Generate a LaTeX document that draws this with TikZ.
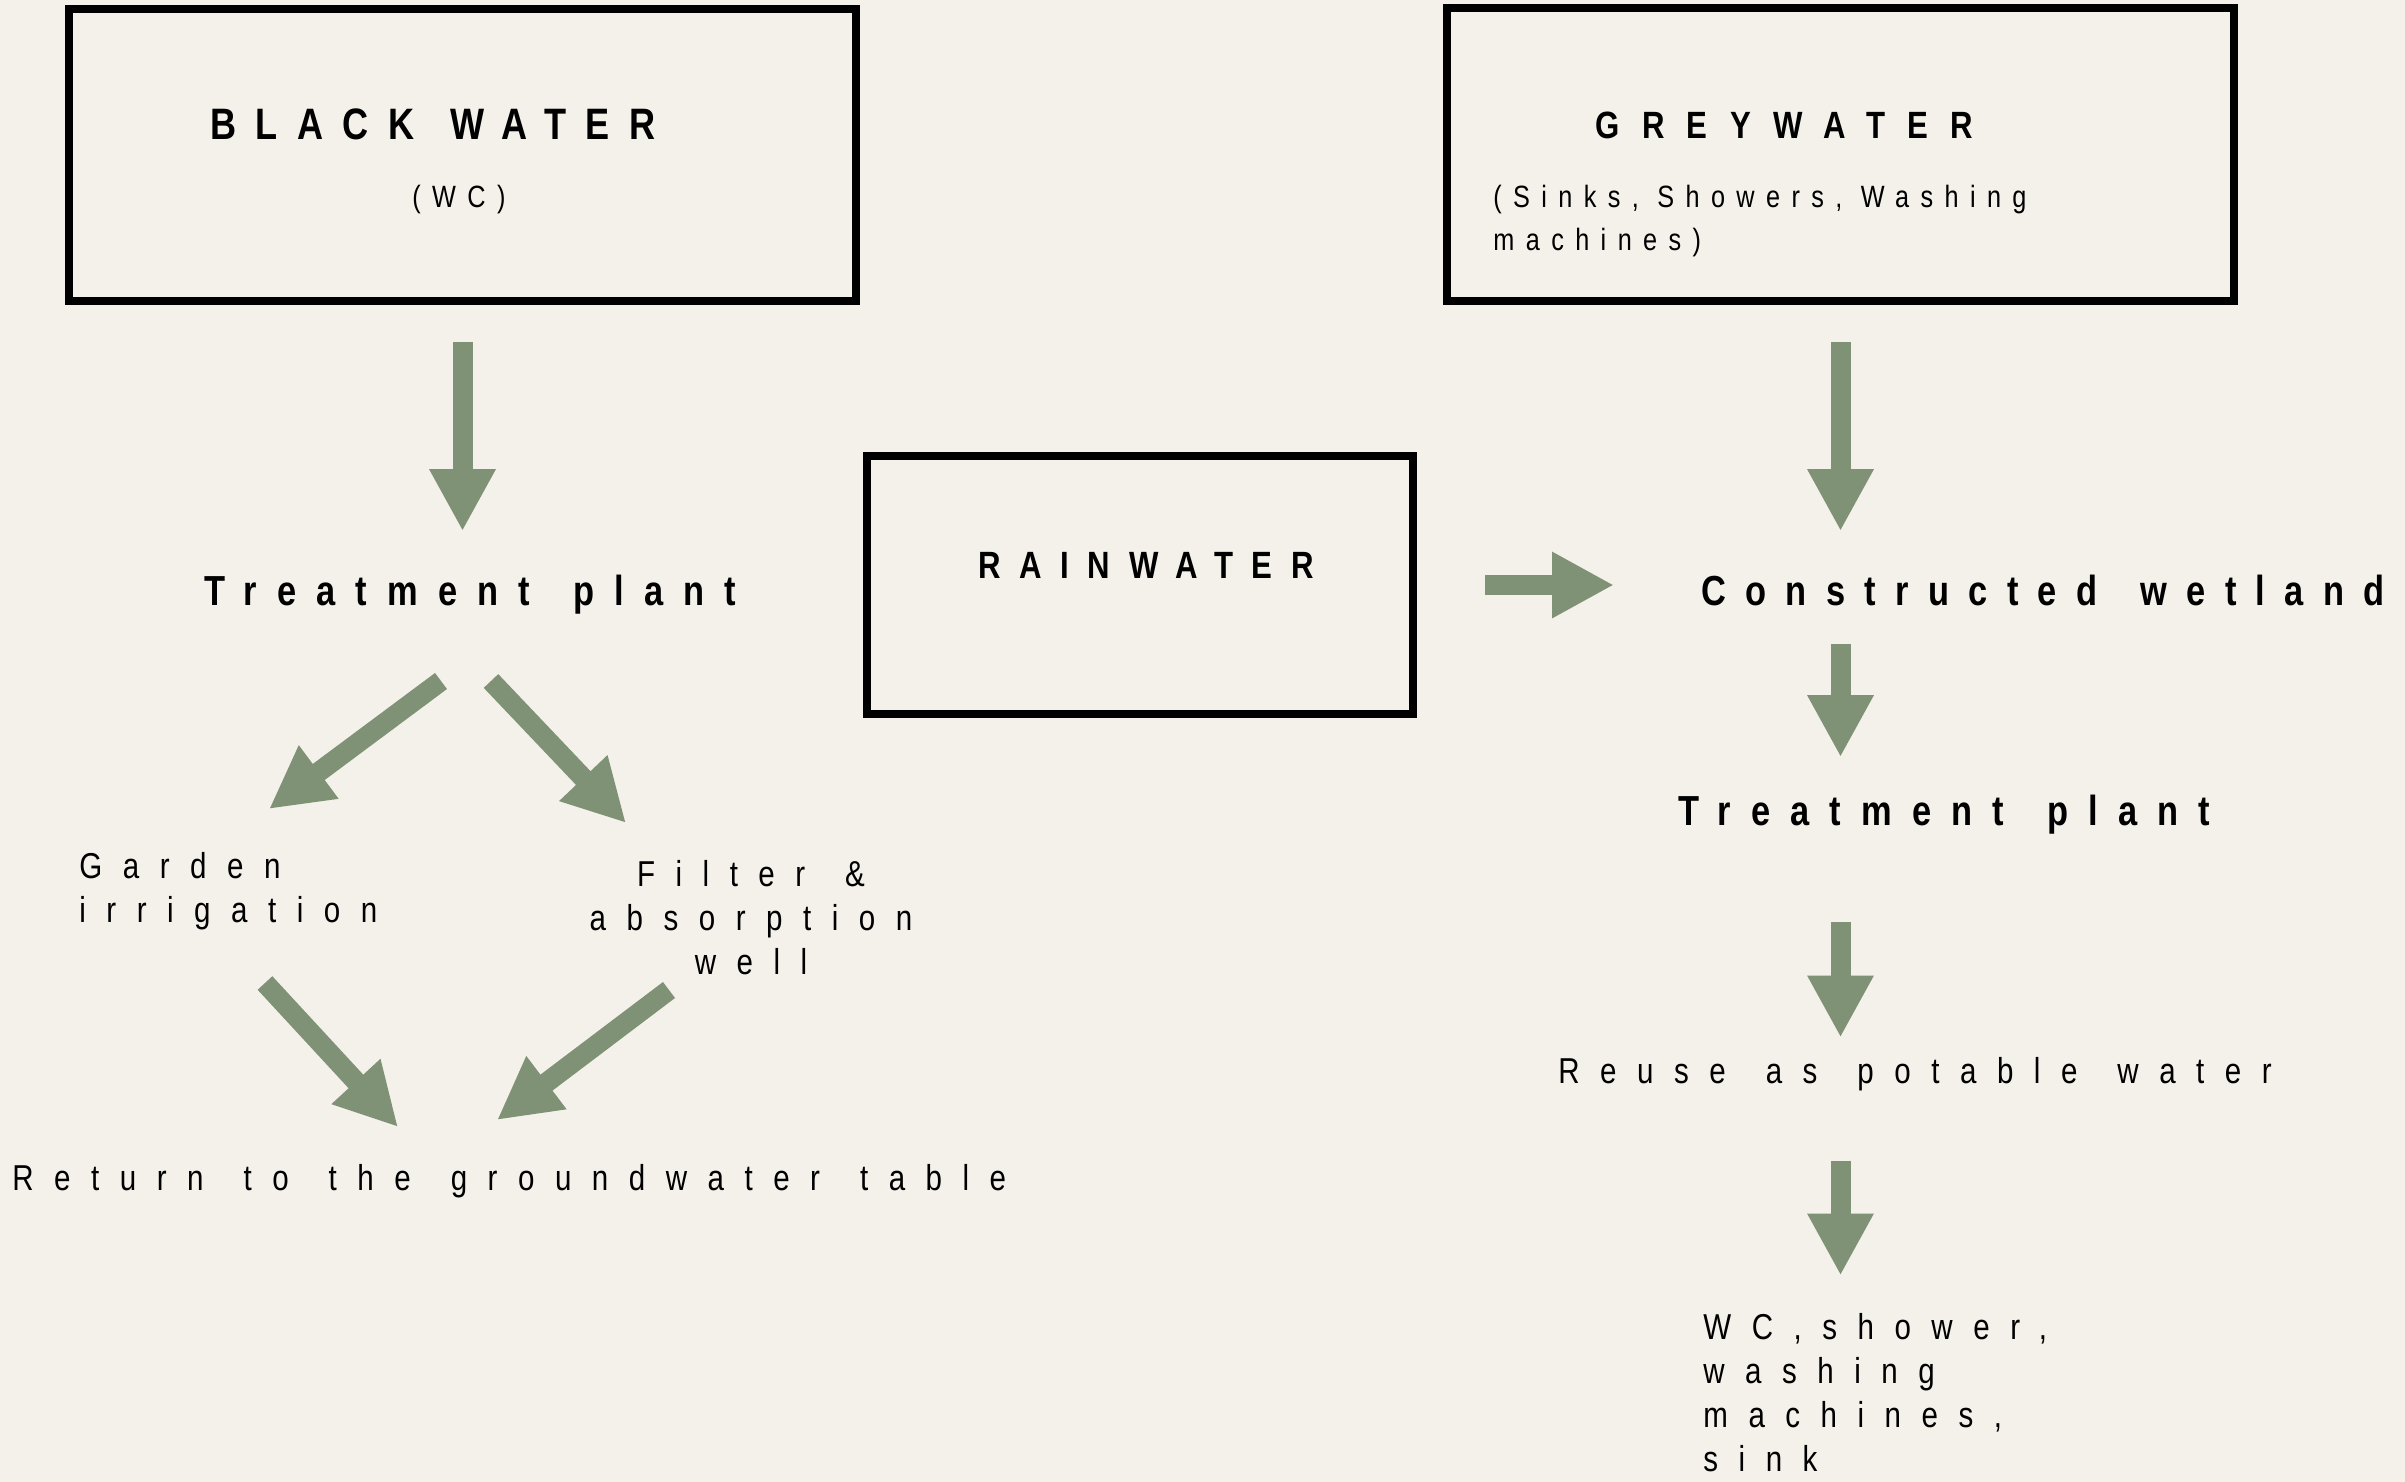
\documentclass[tikz,border=0pt]{standalone}
\usepackage{fontspec}
\setmainfont{Liberation Sans}[FakeStretch=0.82]
\usetikzlibrary{arrows.meta}
\definecolor{sage}{HTML}{7F9276}
\definecolor{paper}{HTML}{F4F0EA}
\newcommand\wordgap[1]{\spaceskip #1\relax}

\begin{document}
\begin{tikzpicture}[x=0.5pt, y=-0.5pt,
	box/.style={draw, line width=4pt, inner sep=0pt},
	txt/.style={inner sep=0pt, anchor=base west, font={\fontsize{18}{22}\selectfont\addfontfeatures{LetterSpace=57}\wordgap{20pt}}},
	sub/.style={inner sep=0pt, anchor=base west, align=left, font={\fontsize{15.4}{21.5}\selectfont\addfontfeatures{LetterSpace=37}}},
	hd/.style={inner sep=0pt, anchor=base west, font={\fontsize{21}{26}\selectfont\bfseries\addfontfeatures{LetterSpace=#1}\wordgap{21.5pt}}},
	hd/.default=48,
	boxhd/.style={inner sep=0pt, anchor=base west, font={\fontsize{19}{23}\selectfont\bfseries\addfontfeatures{LetterSpace=#1}}},
	fat/.style={sage, line width=10pt, -{Triangle[width=31pt, length=31pt]}}]
	\fill[paper] (0,0) rectangle (2405,1482);
	\useasboundingbox (0,0) rectangle (2405,1482);
	\node[box, minimum width=393.5pt, minimum height=146pt] (black) at (462.5,155) {};
	\node[box, minimum width=393.5pt, minimum height=146.5pt] (grey) at (1840.5,154.5) {};
	\node[box, minimum width=273pt, minimum height=129pt] (rain) at (1140,585) {};
	\node[boxhd=44, font={\fontsize{22}{26}\selectfont\bfseries\addfontfeatures{LetterSpace=44}\wordgap{18pt}}] (blacktitle) at (210,140) {BLACK WATER};
	\node[sub] (blacksub) at (412,208) {(WC)};
	\node[boxhd=59] (greytitle) at (1595,139) {GREYWATER};
	\node[sub] (greysub) at (1493,251) {(Sinks, Showers, Washing\\machines)};
	\node[boxhd=49] (raintitle) at (978,578) {RAINWATER};
	\node[hd] (tpl) at (204,605) {Treatment plant};
	\node[hd=46] (cw) at (1701,605) {Constructed wetland};
	\node[hd] (tpr) at (1678,825) {Treatment plant};
	\node[txt] (reuse) at (1558,1083) {Reuse as potable water};
	\node[txt, align=left] (uses) at (1703,1471) {WC,shower,\\washing\\machines,\\sink};
	\node[txt, align=left] (garden) at (79,922) {Garden\\irrigation};
	\node[txt, align=center, anchor=base] (filter) at (751,974) {Filter \&\\absorption\\well};
	\node[txt] (ret) at (12,1190) {Return to the groundwater table};
	\draw[fat, shorten <=18.5pt, shorten >=21.5pt] (black.south) -- (black.south |- tpl.north);
	\draw[fat, shorten <=18.5pt, shorten >=21.5pt] (grey.south) -- (grey.south |- cw.north);
	\draw[fat, shorten <=34pt, shorten >=43.5pt] (rain.east) -- (rain.east -| cw.west);
	\draw[fat, shorten <=19pt, shorten >=18.5pt] (grey.south |- cw.south) -- (grey.south |- tpr.north);
	\draw[fat, shorten <=44pt, shorten >=9.5pt] (grey.south |- tpr.south) -- (grey.south |- reuse.north);
	\draw[fat, shorten <=35pt, shorten >=18.5pt] (grey.south |- reuse.south) -- (grey.south |- uses.north);
	\draw[fat] ([shift={(237,76)}]tpl.base west) -- ([shift={(190,-113)}]garden.base west);
	\draw[fat] ([shift={(287,76)}]tpl.base west) -- ([shift={(-125,-151)}]filter.base);
	\draw[fat] ([shift={(186,61)}]garden.base west) -- ([shift={(386,-63)}]ret.base west);
	\draw[fat] ([shift={(-82,16)}]filter.base) -- ([shift={(485,-70)}]ret.base west);
\end{tikzpicture}
\end{document}
